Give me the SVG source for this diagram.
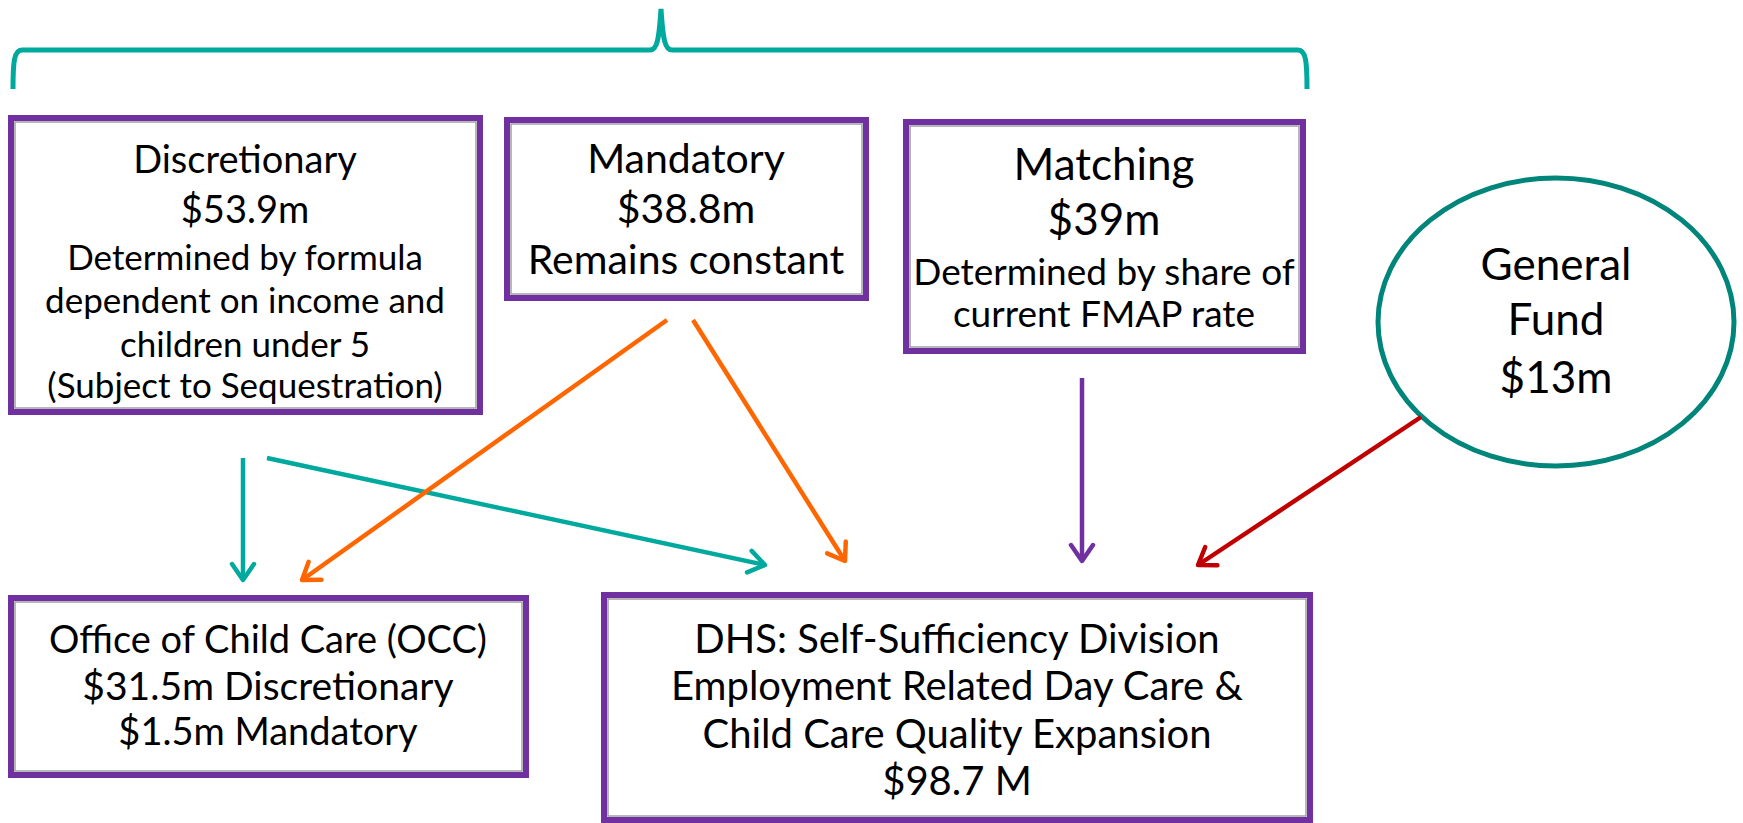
<svg xmlns="http://www.w3.org/2000/svg" width="1743" height="823" viewBox="0 0 1743 823">
<style>
.box{fill:#fff;stroke:#7030A0;stroke-width:6}
.inner{fill:none;stroke:#A0A0A0;stroke-width:1.5}
.t{font-family:Lato,"Open Sans","Liberation Sans",sans-serif;fill:#000;text-anchor:middle}
.big{font-size:38px}
.mid{font-size:35px}
.lg{font-size:44px}
.conn{fill:none;stroke-width:4.5}
</style>
<defs>
<marker id="ah-teal" viewBox="-22 -14 26 28" refX="0" refY="0" markerWidth="26" markerHeight="28" markerUnits="userSpaceOnUse" orient="auto"><path d="M-16,-11 L0,0 L-16,11" fill="none" stroke="#00A99D" stroke-width="4.5" stroke-linecap="round" stroke-linejoin="round"/></marker>
<marker id="ah-orange" viewBox="-22 -14 26 28" refX="0" refY="0" markerWidth="26" markerHeight="28" markerUnits="userSpaceOnUse" orient="auto"><path d="M-16,-11 L0,0 L-16,11" fill="none" stroke="#FF6600" stroke-width="4.5" stroke-linecap="round" stroke-linejoin="round"/></marker>
<marker id="ah-purple" viewBox="-22 -14 26 28" refX="0" refY="0" markerWidth="26" markerHeight="28" markerUnits="userSpaceOnUse" orient="auto"><path d="M-16,-11 L0,0 L-16,11" fill="none" stroke="#7030A0" stroke-width="4.5" stroke-linecap="round" stroke-linejoin="round"/></marker>
<marker id="ah-red" viewBox="-22 -14 26 28" refX="0" refY="0" markerWidth="26" markerHeight="28" markerUnits="userSpaceOnUse" orient="auto"><path d="M-16,-11 L0,0 L-16,11" fill="none" stroke="#C00000" stroke-width="4.5" stroke-linecap="round" stroke-linejoin="round"/></marker>
</defs>
<rect width="1743" height="823" fill="#fff"/>

<g id="brace">
<path d="M13,89 C13,62 14,50 22,50 L650,50 C657,50 659,40 661,9 C663,40 665,50 672,50 L1298,50 C1306,50 1307,62 1307,89" fill="none" stroke="#00A99D" stroke-width="5"/>
</g>

<g id="discretionary">
<rect class="box" x="11" y="118" width="469" height="294"/>
<rect class="inner" x="15" y="122" width="461" height="286"/>
<text class="t big" x="245" y="173">Discretionary</text>
<text class="t big" x="245" y="223">$53.9m</text>
<text class="t mid" x="245" y="270">Determined by formula</text>
<text class="t mid" x="245" y="313">dependent on income and</text>
<text class="t mid" x="245" y="357">children under 5</text>
<text class="t mid" x="245" y="398">(Subject to Sequestration)</text>
</g>

<g id="mandatory">
<rect class="box" x="507" y="120" width="359" height="178"/>
<rect class="inner" x="511" y="124" width="351" height="170"/>
<text class="t" style="font-size:41px" x="686" y="173">Mandatory</text>
<text class="t" style="font-size:41px" x="686" y="223">$38.8m</text>
<text class="t" style="font-size:41px" x="686" y="274">Remains constant</text>
</g>

<g id="matching">
<rect class="box" x="906" y="122" width="397" height="229"/>
<rect class="inner" x="910" y="126" width="389" height="221"/>
<text class="t lg" x="1104" y="180">Matching</text>
<text class="t lg" x="1104" y="235">$39m</text>
<text class="t" style="font-size:37px" x="1104" y="285">Determined by share of</text>
<text class="t" style="font-size:37px" x="1104" y="327">current FMAP rate</text>
</g>

<g id="general-fund">
<ellipse cx="1556" cy="322" rx="178" ry="144" fill="#fff" stroke="#00857A" stroke-width="5"/>
<text class="t lg" x="1556" y="280">General</text>
<text class="t lg" x="1556" y="335">Fund</text>
<text class="t lg" x="1556" y="393">$13m</text>
</g>

<g id="occ">
<rect class="box" x="11" y="598" width="515" height="177"/>
<rect class="inner" x="15" y="602" width="507" height="169"/>
<text class="t big" x="268" y="653">Office of Child Care (OCC)</text>
<text class="t" style="font-size:39px" x="268" y="700">$31.5m Discretionary</text>
<text class="t big" x="268" y="745">$1.5m Mandatory</text>
</g>

<g id="dhs">
<rect class="box" x="604" y="595" width="706" height="225"/>
<rect class="inner" x="608" y="599" width="698" height="217"/>
<g class="t" style="font-size:40px">
<text x="957" y="653">DHS: Self-Sufficiency Division</text>
<text x="957" y="700">Employment Related Day Care &amp;</text>
<text x="957" y="748">Child Care Quality Expansion</text>
<text x="957" y="795">$98.7 M</text>
</g>
</g>

<g id="connectors">
<line class="conn" x1="243" y1="458" x2="243" y2="580" stroke="#00A99D" marker-end="url(#ah-teal)"/>
<line class="conn" x1="267" y1="458" x2="765" y2="565" stroke="#00A99D" marker-end="url(#ah-teal)"/>
<line class="conn" x1="667" y1="320" x2="302" y2="580" stroke="#FF6600" marker-end="url(#ah-orange)"/>
<line class="conn" x1="693" y1="320" x2="845" y2="561" stroke="#FF6600" marker-end="url(#ah-orange)"/>
<line class="conn" x1="1082" y1="378" x2="1082" y2="561" stroke="#7030A0" marker-end="url(#ah-purple)"/>
<line class="conn" x1="1421" y1="417" x2="1198" y2="565" stroke="#C00000" marker-end="url(#ah-red)"/>
</g>
</svg>
